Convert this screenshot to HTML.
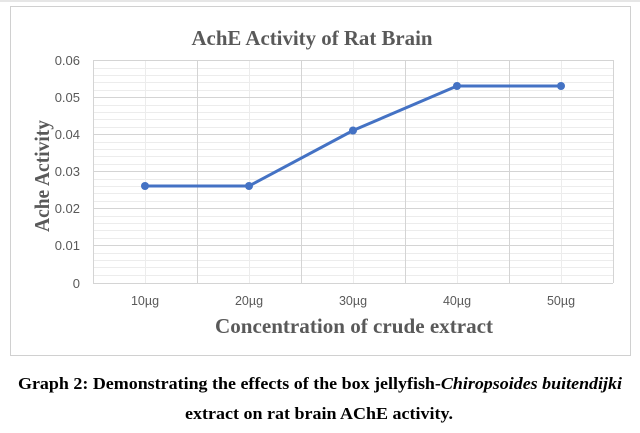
<!DOCTYPE html>
<html><head><style>
body{margin:0;width:640px;height:428px;background:#fff;overflow:hidden;}
</style></head><body>
<svg width="640" height="428" xmlns="http://www.w3.org/2000/svg">
<line x1="0" y1="1" x2="640" y2="1" stroke="#ccc"/>
<rect x="10.5" y="6.5" width="620" height="349" fill="#fff" stroke="#d0d0d0"/>
<g stroke="#ececec" stroke-width="1">
<line x1="93" x2="613" y1="75.5" y2="75.5"/><line x1="93" x2="613" y1="82.5" y2="82.5"/><line x1="93" x2="613" y1="90.5" y2="90.5"/>
<line x1="93" x2="613" y1="112.5" y2="112.5"/><line x1="93" x2="613" y1="119.5" y2="119.5"/><line x1="93" x2="613" y1="127.5" y2="127.5"/>
<line x1="93" x2="613" y1="149.5" y2="149.5"/><line x1="93" x2="613" y1="156.5" y2="156.5"/><line x1="93" x2="613" y1="164.5" y2="164.5"/>
<line x1="93" x2="613" y1="186.5" y2="186.5"/><line x1="93" x2="613" y1="193.5" y2="193.5"/><line x1="93" x2="613" y1="201.5" y2="201.5"/>
<line x1="93" x2="613" y1="223.5" y2="223.5"/><line x1="93" x2="613" y1="230.5" y2="230.5"/><line x1="93" x2="613" y1="238.5" y2="238.5"/>
<line x1="93" x2="613" y1="260.5" y2="260.5"/><line x1="93" x2="613" y1="267.5" y2="267.5"/><line x1="93" x2="613" y1="275.5" y2="275.5"/>
<line x1="93" x2="613" y1="68.5" y2="68.5"/><line x1="93" x2="613" y1="105.5" y2="105.5"/><line x1="93" x2="613" y1="142.5" y2="142.5"/><line x1="93" x2="613" y1="179.5" y2="179.5"/><line x1="93" x2="613" y1="216.5" y2="216.5"/><line x1="93" x2="613" y1="253.5" y2="253.5"/>
<line y1="60" y2="283" x1="145.5" x2="145.5"/><line y1="60" y2="283" x1="249.5" x2="249.5"/><line y1="60" y2="283" x1="353.5" x2="353.5"/><line y1="60" y2="283" x1="457.5" x2="457.5"/><line y1="60" y2="283" x1="561.5" x2="561.5"/>
</g>
<g stroke="#d4d4d4" stroke-width="1">
<line x1="93" x2="613" y1="60.5" y2="60.5"/><line x1="93" x2="613" y1="97.5" y2="97.5"/><line x1="93" x2="613" y1="134.5" y2="134.5"/><line x1="93" x2="613" y1="171.5" y2="171.5"/><line x1="93" x2="613" y1="208.5" y2="208.5"/><line x1="93" x2="613" y1="245.5" y2="245.5"/><line x1="93" x2="613" y1="283.5" y2="283.5"/>
<line y1="60" y2="283" x1="93.5" x2="93.5"/><line y1="60" y2="283" x1="197.5" x2="197.5"/><line y1="60" y2="283" x1="301.5" x2="301.5"/><line y1="60" y2="283" x1="405.5" x2="405.5"/><line y1="60" y2="283" x1="509.5" x2="509.5"/><line y1="60" y2="283" x1="613.5" x2="613.5"/>
</g>
<g font-family="Liberation Sans, sans-serif" font-size="13" fill="#595959" text-anchor="end">
<text x="80" y="65">0.06</text><text x="80" y="102">0.05</text><text x="80" y="139">0.04</text><text x="80" y="176">0.03</text><text x="80" y="213">0.02</text><text x="80" y="250">0.01</text><text x="80" y="288">0</text>
</g>
<g font-family="Liberation Sans, sans-serif" font-size="12.5" fill="#595959" text-anchor="middle">
<text x="145" y="305">10µg</text><text x="249" y="305">20µg</text><text x="353" y="305">30µg</text><text x="457" y="305">40µg</text><text x="561" y="305">50µg</text>
</g>
<polyline points="145,186 249,186 353,130.5 457,86 561,86" fill="none" stroke="#4472c4" stroke-width="3"/>
<g fill="#4472c4"><circle cx="145" cy="186" r="4"/><circle cx="249" cy="186" r="4"/><circle cx="353" cy="130.5" r="4"/><circle cx="457" cy="86" r="4"/><circle cx="561" cy="86" r="4"/></g>
<g font-family="Liberation Serif, serif" font-weight="bold" fill="#595959">
<text x="312" y="45" font-size="21" text-anchor="middle" textLength="241" lengthAdjust="spacingAndGlyphs">AchE Activity of Rat Brain</text>
<text x="354" y="333" font-size="21" text-anchor="middle" textLength="278" lengthAdjust="spacingAndGlyphs">Concentration of crude extract</text>
<text transform="translate(49,176) rotate(-90)" font-size="21" text-anchor="middle" textLength="112" lengthAdjust="spacingAndGlyphs">Ache Activity</text>
</g>
<g font-family="Liberation Serif, serif" font-weight="bold" font-size="17" fill="#000" text-anchor="middle">
<text x="320" y="389" textLength="604" lengthAdjust="spacingAndGlyphs">Graph 2: Demonstrating the effects of the box jellyfish-<tspan font-style="italic">Chiropsoides buitendijki</tspan></text>
<text x="319" y="419" textLength="268" lengthAdjust="spacingAndGlyphs">extract on rat brain AChE activity.</text>
</g>
</svg>
</body></html>
